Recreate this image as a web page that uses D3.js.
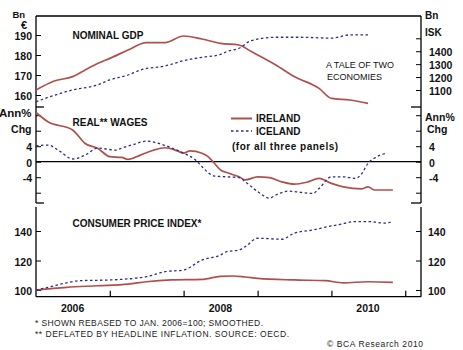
<!DOCTYPE html>
<html>
<head>
<meta charset="utf-8">
<script src="https://cdn.jsdelivr.net/npm/d3@7"></script>
<style>
html,body{margin:0;padding:0;background:#fff;}
svg{display:block;}
text{font-family:"Liberation Sans",Arial,sans-serif;fill:#111;}
.b{font-weight:bold;}
</style>
</head>
<body>
<svg id="chart" width="463" height="350"></svg>
<script>
// ---------- DATA ----------
// Nominal GDP
const gdpIrelandMonths = ["2006-01","2006-04","2006-07","2006-09","2006-11","2007-01","2007-04","2007-07","2007-10","2008-01","2008-04","2008-07","2008-10","2008-12","2009-04","2009-07","2009-11","2010-01","2010-04","2010-07"];
const gdpIreland = [162.5,167.0,169.2,172.5,175.8,178.3,182.5,186.2,186.2,189.5,188.0,185.8,185.0,181.7,175.0,169.2,163.3,158.3,157.5,155.8];
const gdpIcelandMonths = ["2006-01","2006-03","2006-07","2006-11","2007-01","2007-04","2007-06","2007-10","2008-01","2008-04","2008-07","2008-08","2008-10","2008-12","2009-04","2009-08","2010-01","2010-04","2010-07"];
const gdpIceland = [1009,1043,1100,1139,1178,1216,1255,1286,1327,1353,1375,1397,1423,1482,1508,1508,1501,1526,1526];

// Real wages (annual % change)
const wageIrelandMonths = ["2006-01","2006-03","2006-07","2006-09","2006-11","2007-01","2007-03","2007-04","2007-06","2007-08","2007-10","2007-12","2008-01","2008-02","2008-04","2008-05","2008-06","2008-07","2008-08","2008-10","2008-11","2009-01","2009-03","2009-05","2009-07","2009-09","2009-11","2010-01","2010-03","2010-06","2010-07","2010-08","2010-11"];
const wageIreland = [12.7,10.3,8.2,4.7,3.5,1.3,1.1,0.6,1.7,2.9,3.6,2.8,2.2,2.8,2.2,1.3,-0.4,-2.1,-2.8,-3.9,-4.7,-3.9,-4.1,-5.2,-5.8,-5.3,-4.3,-5.6,-6.5,-7.0,-6.5,-7.3,-7.3];
const wageIcelandMonths = ["2006-01","2006-03","2006-05","2006-07","2006-09","2006-11","2007-02","2007-03","2007-05","2007-07","2007-09","2007-11","2008-01","2008-03","2008-04","2008-06","2008-08","2008-10","2008-11","2009-01","2009-03","2009-04","2009-06","2009-08","2009-10","2009-11","2010-01","2010-03","2010-05","2010-06","2010-07","2010-08","2010-10"];
const wageIceland = [4.1,4.3,2.6,0.7,1.7,3.5,3.0,3.5,4.5,5.3,4.7,3.6,2.2,0.4,-1.3,-3.7,-3.9,-4.1,-5.2,-7.7,-9.4,-8.6,-7.6,-7.9,-8.2,-6.9,-3.9,-3.9,-4.3,-3.0,-0.4,0.9,2.2];

// Consumer price index (Jan 2006 = 100)
const cpiIrelandMonths = ["2006-01","2006-06","2006-11","2007-04","2007-07","2007-11","2008-04","2008-07","2008-09","2008-11","2009-01","2009-07","2009-12","2010-03","2010-07","2010-11"];
const cpiIreland = [100,101.8,102.9,104.0,105.6,106.8,107.2,109.3,109.5,108.8,107.9,106.8,106.3,104.9,105.6,105.2];
const cpiIcelandMonths = ["2006-01","2006-03","2006-06","2006-08","2007-01","2007-05","2007-07","2007-10","2008-01","2008-04","2008-07","2008-08","2008-10","2008-11","2009-01","2009-05","2009-07","2009-10","2010-01","2010-02","2010-05","2010-07","2010-10","2010-11"];
const cpiIceland = [100,101.8,104.9,106.3,106.8,107.9,109.0,112.4,113.6,120.3,123.7,126.0,127.1,129.4,135.1,134.4,138.5,140.7,143.4,144.1,146.4,146.4,145.3,146.9];

// Ticks and labels
const gdpLeftTicks = [160,170,180,190];
const gdpRightTicks = [1100,1200,1300,1400,1500];
const gdpRightLabels = ["1100","1200","1300","1400",""];
const wageTicks = [-8,-4,0,4,8,12];
const wageLabels = ["","-4","0","4","",""];
const cpiTicks = [100,120,140];
const yearTicks = ["2007","2008","2009","2010","2011"];
const yearLabels = ["2006","2008","2010"];

const titles = ["NOMINAL GDP","REAL** WAGES","CONSUMER PRICE INDEX*"];
const seriesNames = ["IRELAND","ICELAND"];
const footnotes = ["*  SHOWN REBASED TO JAN. 2006=100; SMOOTHED.","** DEFLATED BY HEADLINE INFLATION. SOURCE: OECD."];

// ---------- DRAW ----------
const svg = d3.select("#chart");
const parse = d3.timeParse("%Y-%m");
const X0 = 36, X1 = 421;
const RED = "#b0504c", BLUE = "#2d2d85";

const x = d3.scaleTime().domain([new Date(2006,0,1), new Date(2011,2,20)]).range([X0, X1]);

const p1L = d3.scaleLinear().domain([154,199.5]).range([107,16]);
const p1R = d3.scaleLinear().domain([968.5,1672.5]).range([107,16]);
const p2 = d3.scaleLinear().domain([-10.66,14.12]).range([203,107]);
const p3 = d3.scaleLinear().domain([95.46,156.27]).range([296.7,207]);

const g = svg.append("g");

function line(g, months, vals, y, color, dashed){
  const data = months.map((m,i)=>({d:parse(m), v:vals[i]}));
  g.append("path").datum(data)
    .attr("fill","none")
    .attr("stroke", color)
    .attr("stroke-width", dashed ? 1.3 : 1.7)
    .attr("stroke-dasharray", dashed ? "2.5,2.5" : null)
    .attr("stroke-linejoin","round")
    .attr("d", d3.line().x(d=>x(d.d)).y(d=>y(d.v)).curve(d3.curveMonotoneX));
}

function axis(gen, ticks, labels, xpos, anchorX, anchor){
  const a = g.append("g").attr("transform",`translate(${xpos},0)`)
    .call(gen.tickValues(ticks).tickSizeOuter(0).tickFormat((d,i)=>labels[i]));
  a.select(".domain").remove();
  a.selectAll("line").attr("stroke","#000");
  a.selectAll("text").attr("class","b").style("font-size","10.5px")
    .attr("x", anchorX).attr("text-anchor", anchor).attr("dy","0.45em")
    .style("font-family","'Liberation Sans',Arial,sans-serif");
  return a;
}

// Panel 1 axes
axis(d3.axisLeft(p1L).tickSizeInner(-5).tickPadding(4), gdpLeftTicks, gdpLeftTicks.map(String), X0, -4, "end");
axis(d3.axisRight(p1R).tickSizeInner(-5).tickPadding(7), gdpRightTicks, gdpRightLabels, X1, 8, "start");
// Panel 2 axes
axis(d3.axisLeft(p2).tickSizeInner(-5), wageTicks, wageLabels, X0, -4, "end");
axis(d3.axisRight(p2).tickSizeInner(-5), wageTicks, wageLabels, X1, 8, "start");
// Panel 3 axes
axis(d3.axisLeft(p3).tickSizeInner(-5), cpiTicks, cpiTicks.map(String), X0, -4, "end");
axis(d3.axisRight(p3).tickSizeInner(-5), cpiTicks, cpiTicks.map(String), X1, 7, "start");

// Bottom time axis
const xa = g.append("g").attr("transform","translate(0,296.7)")
  .call(d3.axisBottom(x).tickValues(yearTicks.map(y=>new Date(+y,0,1))).tickSizeInner(-6).tickSizeOuter(0).tickFormat(""));
xa.select(".domain").remove();
xa.selectAll("line").attr("stroke","#000").attr("stroke-width",1.2);
g.selectAll(".yl").data(yearLabels).enter().append("text")
  .attr("class","b").attr("x",d=>x(new Date(+d,6,1))).attr("y",312)
  .attr("text-anchor","middle").style("font-size","10.5px").text(d=>d);

// Frame lines
const frame = [
  [X0,16,X1,16],
  [X0,16,X0,203],[X1,16,X1,203],
  [X0,207,X0,296.7],[X1,207,X1,296.7],
  [X0,296.7,X1,296.7],
  [X0,107,X0+8,107],[X1-10,107,X1,107],
  [X0,203,X0+8,203],[X1-10,203,X1,203],
  [X0,p2(0),X1,p2(0)]
];
g.selectAll(".fr").data(frame).enter().append("line")
  .attr("x1",d=>d[0]).attr("y1",d=>d[1]).attr("x2",d=>d[2]).attr("y2",d=>d[3])
  .attr("stroke","#000").attr("stroke-width",1.3);

// Series
line(g, gdpIrelandMonths, gdpIreland, p1L, RED, false);
line(g, gdpIcelandMonths, gdpIceland, p1R, BLUE, true);
line(g, wageIrelandMonths, wageIreland, p2, RED, false);
line(g, wageIcelandMonths, wageIceland, p2, BLUE, true);
line(g, cpiIrelandMonths, cpiIreland, p3, RED, false);
line(g, cpiIcelandMonths, cpiIceland, p3, BLUE, true);

// Titles
const titleY = [38.5,125.5,226.5];
titles.forEach((t,i)=>{
  g.append("text").attr("class","b").attr("x",72.5).attr("y",titleY[i])
    .style("font-size","10px").text(t);
});

// Axis unit labels
function lab(t,xp,yp,anchor,size){
  g.append("text").attr("class","b").attr("x",xp).attr("y",yp)
    .attr("text-anchor",anchor).style("font-size",(size||10.5)+"px").text(t);
}
lab("Bn",12.5,18,"start",9.5);
lab("\u20AC",21,29,"start",11);
lab("Bn",425,18.5,"start",10);
lab("ISK",425,35.5,"start",10);
lab("Ann%",31.5,117,"end",11.5);
lab("Chg",31.5,132.5,"end",10.5);
lab("Ann%",425,120.5,"start",10.5);
lab("Chg",427,132.5,"start",10.5);

// Subtitle
g.append("text").attr("x",326).attr("y",68).style("font-size","9px").text("A TALE OF TWO");
g.append("text").attr("x",327).attr("y",79.5).style("font-size","9px").text("ECONOMIES");

// Legend
g.append("line").attr("x1",231).attr("x2",252).attr("y1",118.5).attr("y2",118.5).attr("stroke",RED).attr("stroke-width",2);
g.append("line").attr("x1",231).attr("x2",252).attr("y1",131).attr("y2",131).attr("stroke",BLUE).attr("stroke-width",1.3).attr("stroke-dasharray","2.5,2.5");
g.append("text").attr("class","b").attr("x",256).attr("y",122).style("font-size","10px").text(seriesNames[0]);
g.append("text").attr("class","b").attr("x",256).attr("y",134.5).style("font-size","10px").text(seriesNames[1]);
g.append("text").attr("class","b").attr("x",232).attr("y",150).style("font-size","10px").style("letter-spacing","0.5px").text("(for all three panels)");

// Footnotes
g.append("text").attr("x",35).attr("y",325.5).style("font-size","8.5px").attr("textLength",228).attr("lengthAdjust","spacing").style("fill","#222").text(footnotes[0]);
g.append("text").attr("x",35).attr("y",336.5).style("font-size","8.5px").attr("textLength",254).attr("lengthAdjust","spacing").style("fill","#222").text(footnotes[1]);
g.append("text").attr("x",327).attr("y",346.5).style("font-size","8.5px").attr("textLength",96).attr("lengthAdjust","spacing").style("fill","#222").text("\u00A9 BCA Research 2010");
</script>
</body>
</html>
